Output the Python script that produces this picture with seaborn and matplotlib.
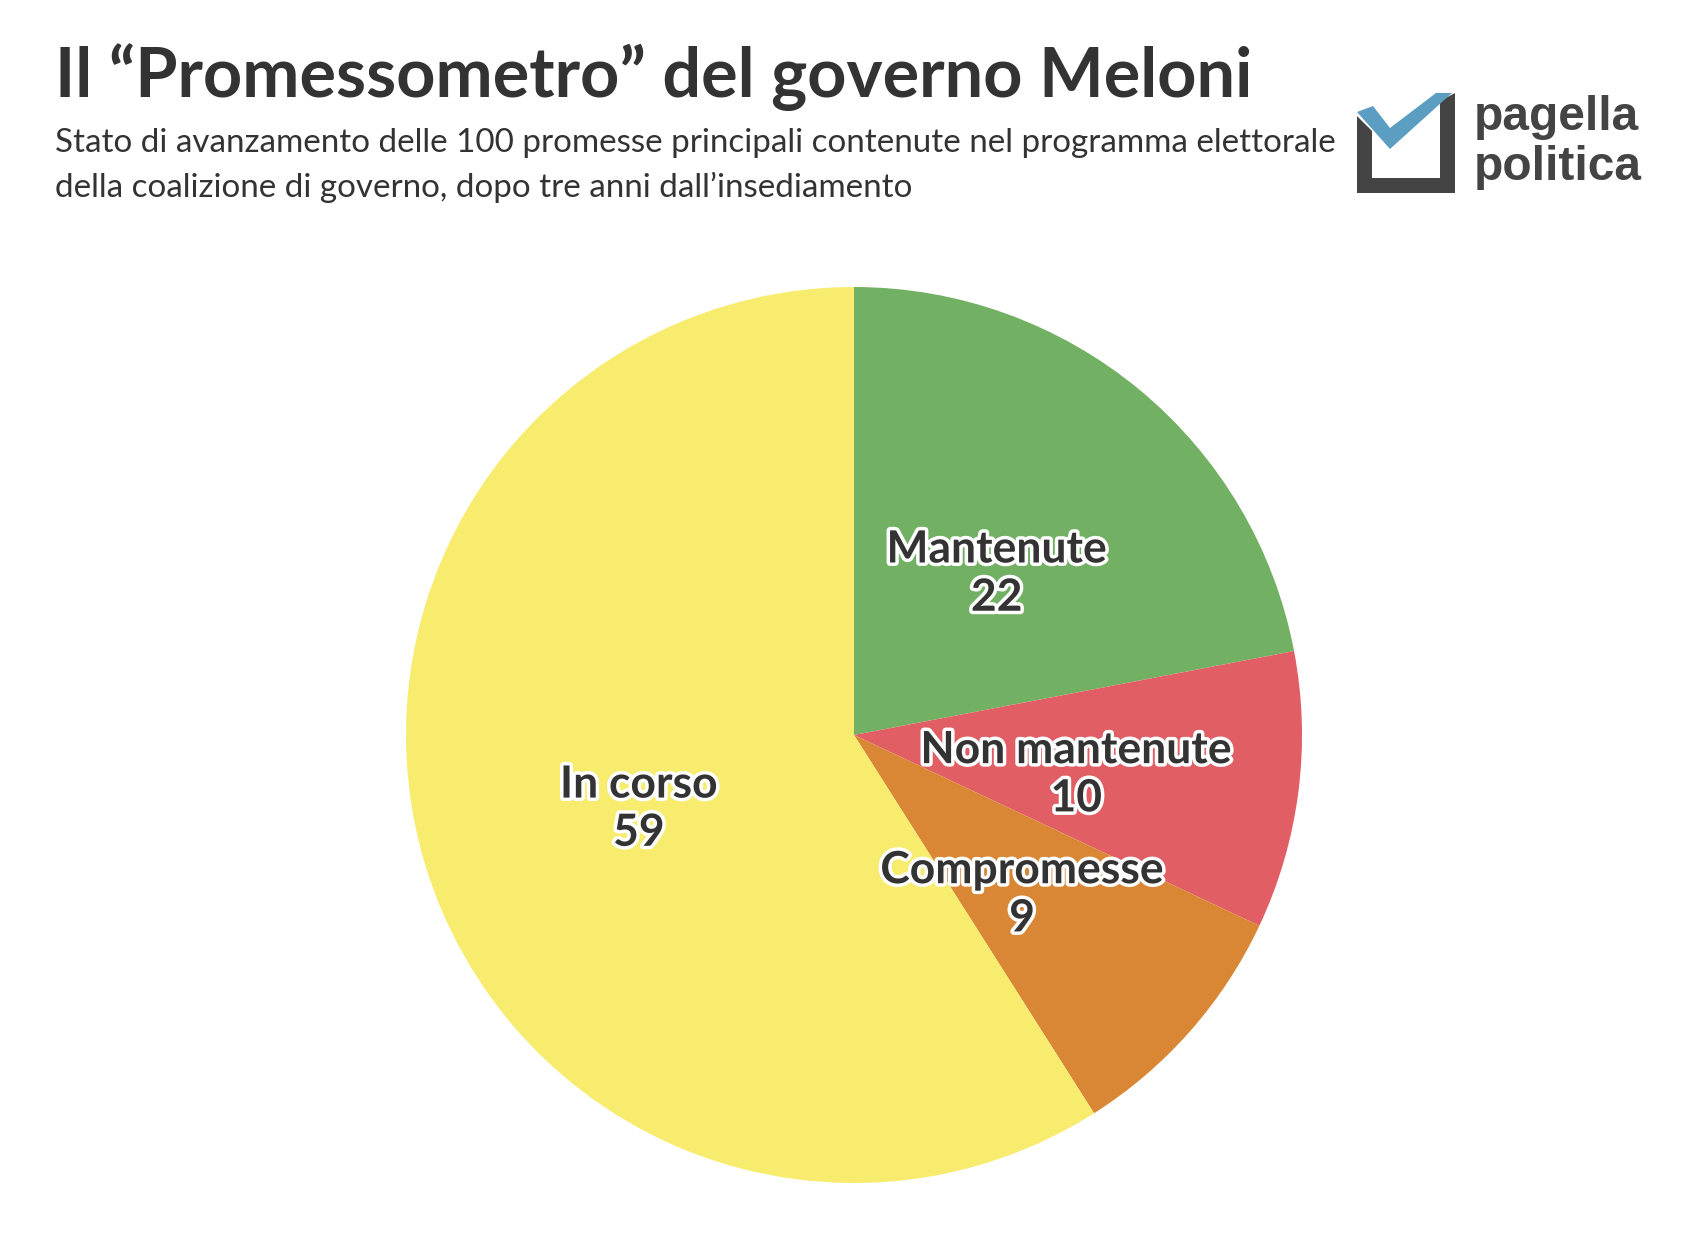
import numpy as np
import matplotlib
matplotlib.use("Agg")
import matplotlib.pyplot as plt
import matplotlib.patheffects as pe
from matplotlib.patches import Polygon
import seaborn as sns

# Promise tracker data
categories = ["Mantenute", "Non mantenute", "Compromesse", "In corso"]
values = [22, 10, 9, 59]
colors = ["#72B163", "#E05E64", "#D98735", "#F7EC6E"]

title = "Il \u201cPromessometro\u201d del governo Meloni"
subtitle_lines = [
    "Stato di avanzamento delle 100 promesse principali contenute nel programma elettorale",
    "della coalizione di governo, dopo tre anni dall\u2019insediamento",
]

sns.set_theme(style="white")
plt.rcParams["font.family"] = ["Lato", "DejaVu Sans"]

W, H = 1706, 1254
fig = plt.figure(figsize=(W / 100, H / 100), dpi=100)
fig.patch.set_facecolor("white")


def fx(x):
    return x / W


def fy(y):
    return 1 - y / H


TXT = "#333333"
fig.text(fx(55), fy(97), title, fontsize=49.2, fontweight="bold", color=TXT,
         ha="left", va="baseline")
for i, line in enumerate(subtitle_lines):
    fig.text(fx(55), fy(152 + i * 45), line, fontsize=23.9, color=TXT,
             ha="left", va="baseline")

# Pie
cx, cy, r = 854, 735, 448
ax = fig.add_axes([fx(cx - r), fy(cy + r), 2 * r / W, 2 * r / H])
pal = sns.color_palette(colors)
wedges, _ = ax.pie(values, colors=pal, startangle=90, counterclock=False,
                   radius=1, wedgeprops=dict(linewidth=0))
ax.set_xlim(-1, 1)
ax.set_ylim(-1, 1)
ax.set_axis_off()

for w, cat, v in zip(wedges, categories, values):
    ang = np.deg2rad((w.theta1 + w.theta2) / 2)
    x, y = 0.5 * np.cos(ang), 0.5 * np.sin(ang) - 0.025
    ax.text(x, y, f"{cat}\n{v}", ha="center", va="center", fontsize=32,
            fontweight="bold", color=TXT, linespacing=1.25,
            path_effects=[pe.withStroke(linewidth=5, foreground="white")])

# Logo
lax = fig.add_axes([0, 0, 1, 1], facecolor="none")
lax.set_xlim(0, W)
lax.set_ylim(H, 0)
lax.set_axis_off()
grey = "#444444"
box = [(1357, 116), (1372, 131), (1372, 178), (1440, 178), (1440, 101),
       (1455, 93), (1455, 193), (1357, 193)]
lax.add_patch(Polygon(box, closed=True, color=grey, lw=0))
check = [(1357, 112), (1373, 106), (1390, 128), (1436, 93), (1452, 93),
         (1390, 149)]
lax.add_patch(Polygon(check, closed=True, color="#5B9EC1", lw=0))
lax.text(1474, 130, "pagella", fontsize=34.5, fontweight="bold",
         family=["Liberation Sans"], color=grey, va="baseline", ha="left")
lax.text(1474, 180, "politica", fontsize=34.5, fontweight="bold",
         family=["Liberation Sans"], color=grey, va="baseline", ha="left")

fig.savefig("out.png", dpi=100, facecolor="white")
